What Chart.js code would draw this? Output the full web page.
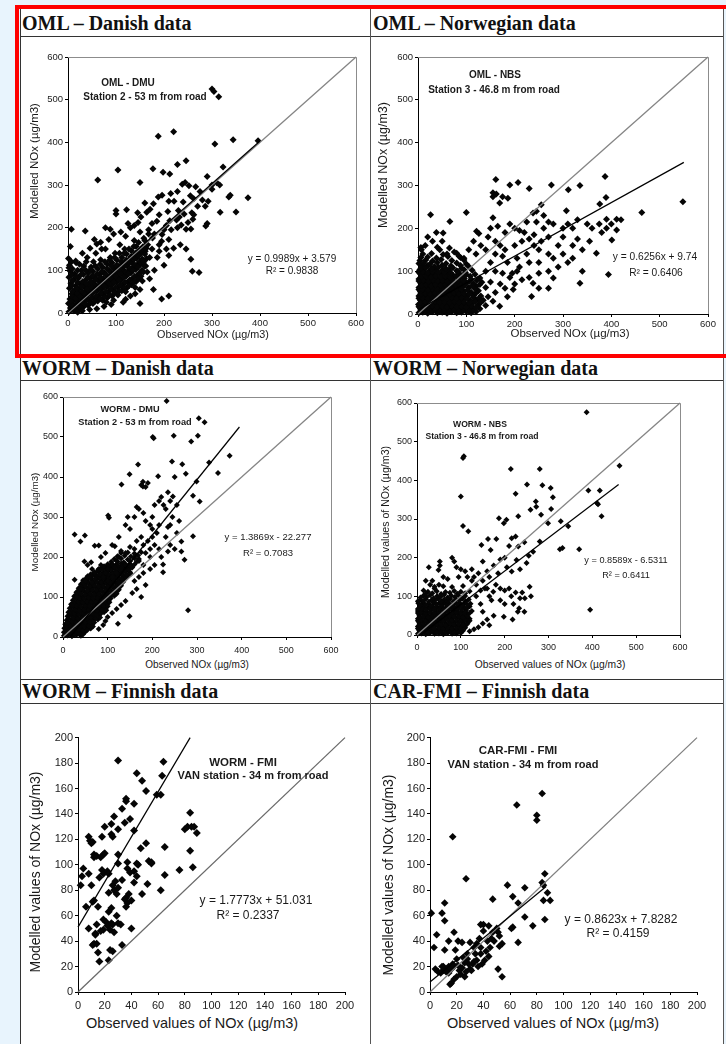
<!DOCTYPE html>
<html lang="en">
<head>
<meta charset="UTF-8">
<title>Modelled vs observed NOx</title>
<script src="https://cdn.jsdelivr.net/npm/chart.js"></script>
<style>
  body { margin:0; width:726px; height:1044px; overflow:hidden; position:relative;
         background:#e8f4fd; font-family:"Liberation Sans", Arial, sans-serif; }
  .sheet { position:absolute; left:20px; top:8px; width:702px; height:1040px; background:#fff;
           border-left:1px solid #333; border-right:1px solid #555; }
  .hl { position:absolute; left:20px; width:703px; height:1px; background:#333; }
  .vl { position:absolute; left:370px; top:8px; width:1px; height:1036px; background:#555; }
  .head { position:absolute; height:24px; line-height:24px; white-space:nowrap; color:#111;
          font-family:"Liberation Serif", "Times New Roman", serif; font-weight:bold; font-size:20px; }
  canvas { position:absolute; }
  .txt { position:absolute; white-space:nowrap; color:#1a1a1a; transform:translate(-50%,-50%); line-height:1; }
  .b { font-weight:bold; }
  .yt { transform:translate(-50%,-50%) rotate(-90deg); }
  .red { position:absolute; left:15px; top:5px; width:730px; height:353px; box-sizing:border-box;
         border:4px solid #f00; z-index:5; }
</style>
</head>
<body>
<div class="sheet"></div>
<div class="hl" style="top:36px"></div>
<div class="hl" style="top:356px"></div>
<div class="hl" style="top:380px"></div>
<div class="hl" style="top:679px"></div>
<div class="hl" style="top:703px"></div>
<div class="vl"></div>

<div class="head" style="left:22px;top:11px">OML – Danish data</div>
<div class="head" style="left:373px;top:11px">OML – Norwegian data</div>
<div class="head" style="left:22px;top:356px">WORM – Danish data</div>
<div class="head" style="left:373px;top:356px">WORM – Norwegian data</div>
<div class="head" style="left:22px;top:679px">WORM – Finnish data</div>
<div class="head" style="left:373px;top:679px">CAR-FMI – Finnish data</div>
<div class="red"></div>

<script>
// axis ranges
const bigAxisMax = 600, bigAxisStep = 100;
const smallAxisMax = 200, smallAxisStep = 20;

// OML - Danish (DMU station 2)
const omlDanishPts = [
  [2,3],[5,12],[1,22],[4,33],[8,45],[3,58],[6,70],[2,84],[5,98],[3,112],[1,128],
  [12,5],[14,16],[11,28],[15,40],[13,52],[16,64],[12,78],[14,92],[17,118],
  [22,8],[24,20],[21,32],[25,44],[23,56],[26,68],[22,82],[28,100],
  [32,14],[34,26],[31,38],[35,50],[33,62],[36,76],[32,90],[38,120],
  [42,18],[44,30],[41,42],[45,54],[43,66],[46,80],[42,94],[48,108],
  [52,22],[54,34],[51,46],[55,58],[53,70],[56,84],[52,98],[58,140],
  [62,28],[64,40],[61,52],[65,64],[63,76],[66,90],[62,104],[68,125],
  [72,30],[74,44],[71,56],[75,68],[73,80],[76,94],[72,108],[78,150],
  [82,36],[84,50],[81,62],[85,74],[83,86],[86,100],[82,114],[88,130],
  [92,40],[94,54],[91,66],[95,78],[93,90],[96,104],[92,118],[98,140],
  [102,46],[104,60],[101,72],[105,84],[103,96],[106,110],[102,124],[108,160],
  [112,52],[114,66],[111,78],[115,90],[113,102],[116,116],[112,130],[118,150],
  [122,58],[124,72],[121,86],[125,98],[123,110],[126,124],[122,138],
  [132,66],[134,80],[131,94],[135,106],[133,118],[136,132],[132,146],[138,170],
  [142,74],[144,88],[141,102],[145,114],[143,128],[146,142],[142,156],
  [152,86],[154,100],[151,114],[155,126],[153,140],[156,155],[158,175],[150,190],
  [162,110],[164,128],[161,145],[166,160],[168,185],
  [7,8],[9,18],[6,28],[9,39],[10,51],[8,64],[9,76],[8,90],[9,104],[7,120],
  [17,10],[19,22],[16,34],[20,46],[18,58],[20,72],[17,86],[20,100],
  [27,12],[29,26],[26,38],[30,50],[28,62],[31,74],[27,90],[33,110],
  [37,20],[39,32],[36,44],[40,56],[38,70],[41,84],[37,100],
  [47,24],[49,36],[46,48],[50,60],[48,74],[51,88],[47,102],[53,120],
  [57,28],[59,40],[56,52],[60,64],[58,78],[61,92],[57,110],
  [67,34],[69,46],[66,58],[70,72],[68,84],[71,98],[67,114],
  [77,38],[79,50],[76,62],[80,76],[78,90],[81,104],[77,120],
  [87,42],[89,56],[86,70],[90,82],[88,96],[91,110],[87,124],
  [97,48],[99,60],[96,72],[100,86],[98,98],[101,112],[97,130],
  [107,52],[109,66],[106,78],[110,92],[108,104],[111,120],[107,140],
  [117,60],[119,72],[116,84],[120,96],[118,110],[121,124],[117,140],
  [127,64],[129,78],[126,92],[130,104],[128,118],[131,132],[127,150],
  [137,72],[139,86],[136,100],[140,112],[138,126],[141,140],[137,156],
  [147,80],[149,94],[146,108],[150,120],[148,134],[151,148],[147,165],
  [157,96],[159,110],[156,124],[160,138],[163,152],[160,170],
  [300,525],[304,519],[314,507],[188,414],[220,425],[306,396],[344,406],[396,404],
  [104,335],[62,312],[150,306],[177,338],[198,330],[212,326],[228,348],[246,357],
  [238,302],[244,306],[252,298],[266,296],[290,320],[300,300],[316,300],[323,342],
  [335,272],[338,276],[375,270],[350,237],[317,236],[292,262],[286,250],[262,268],
  [228,285],[214,280],[210,262],[221,262],[196,276],[188,272],[178,256],[171,243],
  [160,258],[164,236],[152,225],[146,212],[138,205],[100,240],[100,232],[122,242],
  [7,196],[36,192],[78,200],[88,196],[60,162],[55,172],[68,166],[46,152],[24,114],
  [5,156],[2,106],[16,122],[30,140],[40,130],[70,150],[85,172],[95,185],[110,190],
  [120,180],[130,200],[125,210],[145,235],
  [290,210],[287,204],[256,197],[258,235],[242,232],[232,225],[236,206],[226,218],
  [208,238],[212,216],[200,195],[196,184],[228,200],[246,196],[250,212],[234,160],
  [220,152],[246,150],[262,230],[270,250],[280,265],[300,290],[310,305],[275,285],
  [255,275],[240,260],[230,240],[205,205],[215,195],[185,215],[190,230],[175,210],
  [168,195],[180,185],[195,168],[210,172],[260,220],
  [256,126],[259,98],[273,95],[178,55],[195,33],[210,40],[150,22],[120,32],[104,42],
  [140,60],[180,100],[170,80],[165,96],[200,112],[186,130],[205,150],[190,160],
  [176,176],[160,150],[170,130],[158,120],[175,150],[190,145],[210,135],[155,75],
  [130,40],[115,25],[90,20],[75,15],[60,10],[45,8],[30,5],[20,2],[95,30],[80,25],
  [140,45],[150,55],[120,50]
];
const omlDanishDiag = [[0,0],[600,600]];
const omlDanishFit = [[0,3.6],[400,403]];

// OML - Norwegian (NBS station 3)
const omlNorwegianPts = [
  [2,3],[10,4],[20,2],[30,5],[40,3],[50,4],[60,2],[70,5],[80,3],[90,4],[100,6],[110,3],[120,5],
  [5,12],[15,13],[25,11],[35,14],[45,12],[55,13],[65,11],[75,14],[85,12],[95,13],[105,11],[115,14],[128,12],
  [1,22],[10,23],[20,21],[30,24],[40,22],[50,23],[60,21],[70,24],[80,22],[90,23],[100,21],[112,24],[125,22],
  [5,32],[15,33],[25,31],[35,34],[45,32],[55,33],[65,31],[75,34],[85,32],[95,33],[108,31],[120,34],[135,32],
  [2,42],[10,43],[20,41],[30,44],[40,42],[50,43],[60,41],[70,44],[80,42],[90,43],[100,41],[115,44],[130,42],
  [5,52],[15,53],[25,51],[35,54],[45,52],[55,53],[65,51],[75,54],[85,52],[95,53],[110,51],[125,54],
  [2,62],[12,63],[22,61],[32,64],[42,62],[52,63],[62,61],[72,64],[82,62],[92,63],[105,61],[120,64],[140,62],
  [6,72],[16,73],[26,71],[36,74],[46,72],[56,73],[66,71],[76,74],[88,72],[100,73],[115,71],[132,74],
  [2,82],[12,83],[22,81],[32,84],[42,82],[52,83],[62,81],[72,84],[84,82],[96,83],[110,81],[128,84],
  [6,92],[16,93],[26,91],[36,94],[48,92],[60,93],[72,91],[86,94],[100,92],[118,93],
  [3,102],[12,103],[24,101],[36,104],[50,102],[64,103],[80,101],[95,104],[112,102],
  [8,112],[20,113],[34,111],[50,114],[68,112],[88,113],[105,111],
  [4,125],[16,126],[30,124],[48,127],[70,125],[95,126],
  [10,140],[28,141],[52,139],[80,142],[6,155],[40,156],[65,154],
  [6,7],[15,8],[25,6],[35,9],[45,7],[55,8],[65,6],[75,9],[85,7],[95,8],[105,6],[115,9],
  [2,17],[10,18],[20,16],[30,19],[40,17],[50,18],[60,16],[70,19],[80,17],[90,18],[100,16],[110,19],[122,17],
  [6,27],[15,28],[25,26],[35,29],[45,27],[55,28],[65,26],[75,29],[85,27],[95,28],[106,26],[118,29],[130,27],
  [2,37],[10,38],[20,36],[30,39],[40,37],[50,38],[60,36],[70,39],[80,37],[90,38],[102,36],[114,39],[126,37],
  [6,47],[15,48],[25,46],[35,49],[45,47],[55,48],[65,46],[75,49],[85,47],[95,48],[106,46],[120,49],
  [2,57],[10,58],[20,56],[30,59],[40,57],[50,58],[60,56],[70,59],[80,57],[90,58],[102,56],[118,59],
  [7,67],[17,68],[27,66],[37,69],[47,67],[57,68],[67,66],[77,69],[87,67],[98,68],[112,66],[128,69],
  [2,77],[11,78],[21,76],[31,79],[41,77],[51,78],[61,76],[71,79],[82,77],[94,78],[106,76],[122,79],
  [7,87],[17,88],[27,86],[37,89],[47,87],[57,88],[67,86],[79,89],[92,87],[108,88],
  [2,97],[10,98],[20,96],[30,99],[42,97],[55,98],[68,96],[82,99],[98,97],
  [6,107],[16,108],[28,106],[42,109],[57,107],[72,108],[90,106],
  [2,118],[12,119],[25,117],[40,120],[58,118],[80,119],[100,117],
  [6,132],[20,133],[38,131],[62,134],[88,132],
  [7,150],[26,232],[38,190],[52,189],[66,216],[100,237],[121,193],[126,188],[155,283],
  [155,274],[161,314],[162,280],[169,259],[175,274],[186,270],[190,301],[207,307],
  [230,293],[238,236],[245,240],[276,301],[311,290],[335,300],[387,321],[389,272],
  [376,257],[307,241],[411,221],[390,221],[390,200],[411,196],[401,173],[463,237],
  [548,262],[369,142],[394,92],[335,72],[280,130],[280,84],[238,72],[235,41],[197,57],[169,18],
  [150,200],[160,170],[170,160],[180,150],[190,210],[200,200],[210,195],[220,190],
  [215,170],[230,175],[240,160],[250,150],[225,140],[205,130],[185,120],[175,135],
  [160,140],[150,120],[140,100],[160,100],[175,95],[195,95],[210,110],[230,120],
  [250,120],[270,140],[290,160],[300,180],[310,210],[320,200],[330,175],[300,200],
  [280,210],[260,200],[270,180],[255,170],[245,215],[260,230],[300,140],[320,130],
  [340,150],[355,170],[380,190],[350,210],[330,220],[290,110],[270,100],[250,95],
  [230,85],[215,80],[200,70],[180,60],[160,50],[145,40],[130,30],[150,75],[170,70],
  [190,85],[205,100],[140,150],[130,160],[120,140],[115,170],[105,150],[95,130],
  [85,135],[75,145],[60,140],[50,170],[45,150],[20,180],[15,160],[30,170],[145,180],
  [155,225],[165,205],[180,190],[200,160],[240,185],[255,255],[225,215],[270,215],
  [320,160],[360,200],[375,210],[400,210],[420,220],[340,100],[310,120],[250,60],
  [270,60],[185,40],[155,30],[140,20],[120,15]
];
const omlNorwegianDiag = [[0,0],[600,600]];
const omlNorwegianFit = [[0,9.7],[550,354]];

// WORM - Danish (DMU station 2)
const wormDanishPts = [
  [2,3],[10,4],[20,2],[30,5],[40,3],
  [2,12],[10,13],[20,11],[30,14],[40,12],[50,13],
  [3,22],[12,23],[22,21],[32,24],[42,22],[52,23],[62,21],
  [5,32],[15,33],[25,31],[35,34],[45,32],[55,33],[65,31],
  [8,42],[18,43],[28,41],[38,44],[48,42],[58,43],[68,41],[78,44],
  [10,52],[20,53],[30,51],[40,54],[50,52],[60,53],[70,51],[80,54],
  [12,62],[22,63],[32,61],[42,64],[52,62],[62,63],[72,61],[82,64],[92,62],
  [15,72],[25,73],[35,71],[45,74],[55,72],[65,73],[75,71],[85,74],[95,72],
  [18,82],[28,83],[38,81],[48,84],[58,82],[68,83],[78,81],[88,84],[98,82],
  [22,92],[32,93],[42,91],[52,94],[62,92],[72,93],[82,91],[92,94],[102,92],
  [25,102],[35,103],[45,101],[55,104],[65,102],[75,103],[85,101],[95,104],[105,102],[115,103],
  [30,112],[40,113],[50,111],[60,114],[70,112],[80,113],[90,111],[100,114],[110,112],[120,113],
  [35,122],[45,123],[55,121],[65,124],[75,122],[85,123],[95,121],[105,124],[115,122],[125,123],
  [40,132],[50,133],[60,131],[70,134],[80,132],[90,133],[100,131],[110,134],[120,132],[130,133],
  [45,142],[55,143],[65,141],[75,144],[85,142],[95,143],[105,141],[115,144],[125,142],[135,143],
  [55,152],[65,153],[75,151],[85,154],[95,152],[105,153],[115,151],[125,154],[135,152],[145,153],
  [70,162],[80,163],[90,161],[100,164],[110,162],[120,163],[130,161],[140,164],[150,162],
  [85,172],[95,173],[105,171],[115,174],[125,172],[135,173],[145,171],[155,174],
  [100,182],[110,183],[120,181],[130,184],[140,182],[150,183],[160,181],
  [115,195],[130,196],[145,194],[160,197],[170,195],[130,210],[145,211],[160,209],[175,212],
  [5,7],[15,8],[25,6],[35,9],[45,7],
  [6,17],[15,18],[25,16],[35,19],[45,17],[55,18],
  [8,27],[17,28],[27,26],[37,29],[47,27],[57,28],[67,26],
  [10,37],[20,38],[30,36],[40,39],[50,37],[60,38],[70,36],
  [12,47],[23,48],[33,46],[43,49],[53,47],[63,48],[73,46],[83,49],
  [15,57],[25,58],[35,56],[45,59],[55,57],[65,58],[75,56],[85,59],
  [17,67],[27,68],[37,66],[47,69],[57,67],[67,68],[77,66],[87,69],[97,67],
  [20,77],[30,78],[40,76],[50,79],[60,77],[70,78],[80,76],[90,79],[100,77],
  [24,87],[34,88],[44,86],[54,89],[64,87],[74,88],[84,86],[94,89],[104,87],
  [27,97],[37,98],[47,96],[57,99],[67,97],[77,98],[87,96],[97,99],[107,97],
  [30,107],[40,108],[50,106],[60,109],[70,107],[80,108],[90,106],[100,109],[110,107],[120,108],
  [35,117],[45,118],[55,116],[65,119],[75,117],[85,118],[95,116],[105,119],[115,117],[125,118],
  [40,127],[50,128],[60,126],[70,129],[80,127],[90,128],[100,126],[110,129],[120,127],[130,128],
  [45,137],[55,138],[65,136],[75,139],[85,137],[95,138],[105,136],[115,139],[125,137],[135,138],
  [52,147],[62,148],[72,146],[82,149],[92,147],[102,148],[112,146],[122,149],[132,147],[142,148],
  [62,157],[72,158],[82,156],[92,159],[102,157],[112,158],[122,156],[132,159],[142,157],[152,158],
  [78,167],[88,168],[98,166],[108,169],[118,167],[128,168],[138,166],[148,169],
  [92,177],[102,178],[112,176],[122,179],[132,177],[142,178],[152,176],
  [108,188],[122,189],[136,187],[150,190],[165,188],[122,202],[138,203],[152,201],[168,204],
  [232,590],[304,547],[317,537],[201,500],[203,497],[248,503],[287,489],[302,503],
  [149,407],[168,431],[244,439],[267,432],[275,408],[299,389],[327,436],[347,410],
  [373,453],[131,381],[179,388],[179,376],[190,385],[213,402],[250,400],[235,362],
  [306,339],[291,353],[246,351],[101,304],[103,298],[26,256],[49,254],[39,239],
  [71,228],[80,229],[116,227],[48,189],[63,187],[26,143],[291,252],[265,239],
  [235,214],[265,214],[272,193],[224,181],[224,162],[280,67],[149,52],[123,33],
  [150,270],[160,300],[165,325],[170,320],[180,310],[185,290],[195,280],[200,300],
  [205,330],[215,340],[220,350],[225,330],[230,320],[240,340],[245,300],[255,330],
  [210,260],[200,250],[190,240],[180,230],[175,250],[165,240],[160,220],[150,225],
  [140,210],[130,215],[125,200],[120,190],[110,180],[100,170],[95,160],[90,150],
  [140,180],[150,190],[160,200],[170,190],[185,210],[195,220],[205,230],[215,220],
  [220,200],[230,250],[240,230],[250,220],[255,260],[235,275],[215,280],[200,270],
  [205,180],[195,170],[180,160],[170,150],[160,140],[155,110],[165,120],[175,100],
  [185,130],[140,90],[130,80],[120,70],[110,60],[100,50],[95,40],[90,30],[80,20],
  [130,170],[120,160],[110,150],[100,140],[115,175],[70,160],[60,150],[50,140],
  [40,120],[30,100],[20,80],[15,60],[10,35],[55,180],[65,170],[80,170],[85,180],
  [175,380],[185,375],[145,300],[140,280],[125,250],[110,230],[95,210],[85,200],
  [240,280],[260,290],[180,180],[195,200]
];
const wormDanishDiag = [[0,0],[600,600]];
const wormDanishFit = [[16,0],[395,525]];

// WORM - Norwegian (NBS station 3)
const wormNorwegianPts = [
  [2,3],[10,4],[20,2],[30,5],[40,3],[50,4],[60,2],[70,5],[80,3],[90,4],
  [5,12],[15,13],[25,11],[35,14],[45,12],[55,13],[65,11],[75,14],[85,12],[95,13],[105,11],
  [2,22],[10,23],[20,21],[30,24],[40,22],[50,23],[60,21],[70,24],[80,22],[90,23],[100,21],[110,24],
  [5,32],[15,33],[25,31],[35,34],[45,32],[55,33],[65,31],[75,34],[85,32],[95,33],[105,31],[115,34],
  [2,42],[10,43],[20,41],[30,44],[40,42],[50,43],[60,41],[70,44],[80,42],[90,43],[100,41],[110,44],[120,42],
  [5,52],[15,53],[25,51],[35,54],[45,52],[55,53],[65,51],[75,54],[85,52],[95,53],[105,51],[115,54],
  [2,62],[12,63],[22,61],[32,64],[42,62],[52,63],[62,61],[72,64],[82,62],[92,63],[102,61],[112,64],[125,62],
  [6,72],[16,73],[26,71],[36,74],[46,72],[56,73],[66,71],[76,74],[86,72],[96,73],[108,71],[120,74],
  [3,82],[14,83],[26,81],[38,84],[50,82],[62,83],[74,81],[86,84],[98,82],[110,83],[122,81],
  [8,92],[20,93],[34,91],[48,94],[62,92],[76,93],[90,91],[104,94],[118,92],
  [15,102],[30,103],[46,101],[62,104],[78,102],[94,103],[110,101],
  [25,112],[45,113],[65,111],[85,114],[100,112],[120,113],[40,125],[60,126],[80,124],[105,127],
  [6,7],[15,8],[25,6],[35,9],[45,7],[55,8],[65,6],[75,9],[85,7],[95,8],
  [2,17],[10,18],[20,16],[30,19],[40,17],[50,18],[60,16],[70,19],[80,17],[90,18],[100,16],[110,19],
  [6,27],[15,28],[25,26],[35,29],[45,27],[55,28],[65,26],[75,29],[85,27],[95,28],[105,26],[115,29],
  [2,37],[10,38],[20,36],[30,39],[40,37],[50,38],[60,36],[70,39],[80,37],[90,38],[100,36],[110,39],[120,37],
  [6,47],[15,48],[25,46],[35,49],[45,47],[55,48],[65,46],[75,49],[85,47],[95,48],[105,46],[115,49],
  [2,57],[10,58],[20,56],[30,59],[40,57],[50,58],[60,56],[70,59],[80,57],[90,58],[100,56],[110,59],[120,57],
  [2,67],[11,68],[21,66],[31,69],[41,67],[51,68],[61,66],[71,69],[81,67],[91,68],[102,66],[114,69],
  [8,77],[20,78],[32,76],[44,79],[56,77],[68,78],[80,76],[92,79],[104,77],[116,78],
  [2,87],[14,88],[27,86],[41,89],[55,87],[69,88],[83,86],[97,89],[111,87],
  [8,97],[22,98],[38,96],[54,99],[70,97],[86,98],[102,96],
  [20,107],[35,108],[55,106],[75,109],[92,107],[110,108],
  [387,576],[107,462],[105,458],[214,429],[280,429],[305,380],[251,389],[225,365],
  [286,387],[100,358],[391,374],[417,374],[462,438],[411,341],[413,338],[421,307],
  [306,326],[310,356],[271,345],[272,332],[259,324],[283,311],[231,307],[299,289],
  [328,294],[345,281],[326,222],[370,222],[105,282],[117,268],[147,233],[162,248],
  [187,302],[198,289],[204,298],[181,248],[168,220],[216,250],[231,229],[227,194],
  [235,170],[250,186],[216,164],[257,125],[246,95],[233,69],[198,47],[218,40],
  [395,65],[332,225],[280,242],[49,168],[52,190],[52,180],[27,175],[174,112],
  [160,165],[165,150],[175,180],[185,160],[190,195],[200,200],[205,175],[180,130],
  [190,120],[200,115],[210,120],[215,100],[225,110],[235,95],[245,60],[230,60],
  [200,80],[190,90],[170,90],[160,120],[150,140],[140,160],[130,150],[135,130],
  [145,115],[125,140],[115,150],[110,165],[100,170],[90,175],[85,190],[80,200],
  [70,145],[60,150],[50,130],[40,120],[30,130],[20,140],[15,115],[35,140],[95,150],
  [125,170],[150,190],[155,120],[165,100],[175,50],[160,40],[150,30],[140,20],
  [130,15],[120,10],[100,5],[165,25],[150,60],[145,80],[135,100],[220,80],[240,110],
  [260,100],[255,205],[265,215],[245,240],[225,255],[210,230]
];
const wormNorwegianDiag = [[0,0],[600,600]];
const wormNorwegianFit = [[8,0],[460,389]];

// WORM - Finnish (FMI, VAN station)
const wormFinnishPts = [
  [30,182],[44,172],[48,166],[51,158],[59,155],[62,155],[63,170],[64,181],
  [36,152],[36,150],[42,148],[39,136],[35,133],[33,144],[30,128],[27,138],[25,132],
  [25,124],[26,122],[20,130],[18,122],[42,127],[30,108],[30,101],
  [8,122],[9,119],[10,117],[11,118],[12,108],[12,106],[14,107],[17,106],[19,108],[20,109],
  [2,84],[3,91],[4,97],[8,93],[10,84],[11,71],[12,72],[6,67],[8,50],
  [16,90],[18,96],[19,93],[22,95],[23,93],[23,78],[26,84],[27,80],[29,77],[30,82],
  [28,87],[33,88],[37,102],[37,97],[39,94],[42,95],[44,91],[45,100],[42,86],[47,113],
  [51,117],[53,103],[55,102],[52,85],[48,77],[38,77],[36,74],[35,73],[36,67],[37,70],
  [40,72],[40,50],
  [15,67],[14,53],[13,46],[13,45],[12,38],[11,37],[14,38],[15,31],[16,24],[19,49],
  [17,48],[19,57],[21,55],[22,52],[24,49],[25,54],[26,53],[27,47],[23,63],[25,66],
  [29,60],[30,54],[32,53],[33,37],[24,33],[26,32],[23,25],
  [62,80],[65,92],[65,114],[76,96],[80,128],[82,130],[84,141],[85,130],[87,130],
  [89,125],[84,111],[86,98],[55,101],[44,101]
];
const wormFinnishDiag = [[0,0],[200,200]];
const wormFinnishFit = [[0,51],[84,200]];

// CAR-FMI - Finnish (FMI, VAN station)
const carFinnishPts = [
  [84,156],[65,147],[80,139],[80,135],[17,122],[27,89],
  [58,84],[62,75],[66,70],[71,82],[47,73],[84,86],[85,84],[86,93],[88,78],[85,72],
  [90,72],[86,57],[71,59],[77,52],[66,39],[62,51],[61,50],[51,47],[52,44],[54,38],
  [51,18],[54,12],[50,50],[47,47],
  [1,62],[11,70],[9,62],[11,56],[5,45],[3,35],[14,40],[18,47],[10,20],[11,33],
  [20,26],[19,33],[21,40],[24,39],[30,39],[28,26],[25,27],[29,22],[38,53],[40,53],
  [44,52],[40,48],[43,40],[46,42],[37,42],[35,38],[33,35],[38,35],[42,32],[44,28],
  [41,25],[38,30],[35,25],[32,22],[30,18],[27,16],[23,14],[22,17],[20,12],[18,10],
  [16,7],[15,6],[14,15],[13,18],[12,16],[10,17],[8,15],[16,18],[18,20],[26,23],
  [28,30],[34,30],[36,20],[39,22],[45,35],[48,40],[52,36],
  [4,18],[6,16],[9,20],[14,20],[17,22],[21,21],[24,19],[26,12],[31,17],[33,24]
];
const carFinnishDiag = [[0,0],[200,200]];
const carFinnishFit = [[0,7.8],[87,83]];

const toXY = arr => arr.map(([x, y]) => ({ x, y }));

// grey top/right border of the plot area (Excel style)
const frame = {
  id: 'frame',
  beforeDatasetsDraw(chart, args, opts) {
    if (!opts.on) return;
    const a = chart.chartArea, c = chart.ctx;
    c.save();
    c.strokeStyle = '#8c8c8c';
    c.lineWidth = 1;
    c.beginPath();
    c.moveTo(a.left, Math.round(a.top) + 0.5);
    c.lineTo(Math.round(a.right) + 0.5, Math.round(a.top) + 0.5);
    c.lineTo(Math.round(a.right) + 0.5, a.bottom);
    c.stroke();
    c.restore();
  }
};

function addText(html, x, y, size, cls) {
  const d = document.createElement('div');
  d.className = 'txt ' + (cls || '');
  d.style.left = x + 'px';
  d.style.top = y + 'px';
  d.style.fontSize = size + 'px';
  d.innerHTML = html;
  document.body.appendChild(d);
}

function makePanel(p) {
  const PT = 8, PR = 16;
  const w = (p.R - p.L) + p.yw + PR;
  const h = (p.B - p.T) + PT + p.xh;
  const cv = document.createElement('canvas');
  cv.width = w; cv.height = h;
  cv.style.left = (p.L - p.yw) + 'px';
  cv.style.top = (p.T - PT) + 'px';
  cv.style.width = w + 'px';
  cv.style.height = h + 'px';
  document.body.appendChild(cv);

  const tickFont = { family: '"Liberation Sans", Arial, sans-serif', size: p.fs };
  new Chart(cv, {
    type: 'scatter',
    data: {
      datasets: [
        { data: toXY(p.fit), showLine: true, pointRadius: 0, borderColor: '#000', borderWidth: 1.2, clip: false },
        { data: toXY(p.diag), showLine: true, pointRadius: 0, borderColor: p.diagColor, borderWidth: 1.3, clip: false },
        { data: toXY(p.pts), pointStyle: 'rectRot', pointRadius: p.r, backgroundColor: '#050505',
          borderWidth: 0, clip: false }
      ]
    },
    options: {
      responsive: false,
      animation: false,
      events: [],
      layout: { padding: { left: 0, top: PT, right: PR, bottom: 0 } },
      plugins: { legend: { display: false }, tooltip: { enabled: false }, frame: { on: p.framed } },
      scales: {
        x: {
          type: 'linear', min: 0, max: p.max,
          ticks: { stepSize: p.step, font: tickFont, color: '#222', padding: p.xpad, maxRotation: 0 },
          grid: { drawOnChartArea: false, tickLength: 3, color: '#000' },
          border: { color: '#000', width: 1 },
          afterFit: s => { s.height = p.xh; }
        },
        y: {
          type: 'linear', min: 0, max: p.max,
          ticks: { stepSize: p.step, font: tickFont, color: '#222', padding: 2 },
          grid: { drawOnChartArea: false, tickLength: 3, color: '#000' },
          border: { color: '#000', width: 1 },
          afterFit: s => { s.width = p.yw; }
        }
      }
    },
    plugins: [frame]
  });
}

makePanel({ L: 68, R: 356, T: 57, B: 313, yw: 30, xh: 20, fs: 9.5, xpad: 2, r: 3.5,
  max: bigAxisMax, step: bigAxisStep, pts: omlDanishPts, diag: omlDanishDiag, fit: omlDanishFit,
  diagColor: '#858585', framed: true });
makePanel({ L: 418, R: 708, T: 57, B: 314, yw: 30, xh: 20, fs: 9.5, xpad: 2, r: 3.5,
  max: bigAxisMax, step: bigAxisStep, pts: omlNorwegianPts, diag: omlNorwegianDiag, fit: omlNorwegianFit,
  diagColor: '#858585', framed: true });
makePanel({ L: 63, R: 331, T: 397, B: 637, yw: 30, xh: 20, fs: 9, xpad: 5, r: 3,
  max: bigAxisMax, step: bigAxisStep, pts: wormDanishPts, diag: wormDanishDiag, fit: wormDanishFit,
  diagColor: '#858585', framed: true });
makePanel({ L: 417, R: 680, T: 403, B: 635, yw: 30, xh: 20, fs: 9, xpad: 4, r: 3,
  max: bigAxisMax, step: bigAxisStep, pts: wormNorwegianPts, diag: wormNorwegianDiag, fit: wormNorwegianFit,
  diagColor: '#858585', framed: true });
makePanel({ L: 78, R: 345, T: 737, B: 992, yw: 34, xh: 22, fs: 11, xpad: 4, r: 4,
  max: smallAxisMax, step: smallAxisStep, pts: wormFinnishPts, diag: wormFinnishDiag, fit: wormFinnishFit,
  diagColor: '#6a6a6a', framed: false });
makePanel({ L: 430, R: 697, T: 737, B: 992, yw: 34, xh: 22, fs: 11, xpad: 4, r: 3.8,
  max: smallAxisMax, step: smallAxisStep, pts: carFinnishPts, diag: carFinnishDiag, fit: carFinnishFit,
  diagColor: '#808080', framed: false });

// axis titles
addText('Modelled NOx (µg/m3)', 35, 161, 11.5, 'yt');
addText('Observed NOx (µg/m3)', 213, 334, 10.8);
addText('Modelled NOx (µg/m3)', 383, 165, 12.5, 'yt');
addText('Observed NOx (µg/m3)', 570, 334, 11.5);
addText('Modelled NOx (µg/m3)', 35, 522, 9.8, 'yt');
addText('Observed NOx (µg/m3)', 197, 665, 10);
addText('Modelled values of NOx (µg/m3)', 385, 522, 10.6, 'yt');
addText('Observed values of NOx (µg/m3)', 550, 665, 10.3);
addText('Modelled values of NOx (µg/m3)', 35, 872, 14, 'yt');
addText('Observed values of NOx (µg/m3)', 192, 1023, 14.5);
addText('Modelled values of NOx (µg/m3)', 388, 875, 14, 'yt');
addText('Observed values of NOx (µg/m3)', 553, 1023, 14.5);

// in-plot labels
addText('OML - DMU', 128, 83, 10, 'b');
addText('Station 2 - 53 m from road', 145, 97, 10, 'b');
addText('y = 0.9989x + 3.579', 292, 259, 10);
addText('R² = 0.9838', 292, 271, 10);

addText('OML - NBS', 495, 75, 10, 'b');
addText('Station 3 - 46.8 m from road', 494, 90, 10, 'b');
addText('y = 0.6256x + 9.74', 655, 257, 10.2);
addText('R² = 0.6406', 656, 273, 10.2);

addText('WORM - DMU', 130, 410, 9.2, 'b');
addText('Station 2 - 53 m from road', 135, 423, 9.2, 'b');
addText('y = 1.3869x - 22.277', 268, 537, 9.5);
addText('R² = 0.7083', 268, 553, 9.5);

addText('WORM - NBS', 480, 424, 8.6, 'b');
addText('Station 3 - 46.8 m from road', 482, 436, 8.6, 'b');
addText('y = 0.8589x - 6.5311', 626, 561, 9.2);
addText('R² = 0.6411', 626, 576, 9.2);

addText('WORM - FMI', 243, 763, 11.5, 'b');
addText('VAN station - 34 m from road', 253, 775, 11, 'b');
addText('y = 1.7773x + 51.031', 256, 900, 12);
addText('R² = 0.2337', 248, 915, 12);

addText('CAR-FMI - FMI', 518, 751, 11.5, 'b');
addText('VAN station - 34 m from road', 523, 764, 11, 'b');
addText('y = 0.8623x + 7.8282', 621, 919, 12);
addText('R² = 0.4159', 618, 933, 12);
</script>
</body>
</html>
